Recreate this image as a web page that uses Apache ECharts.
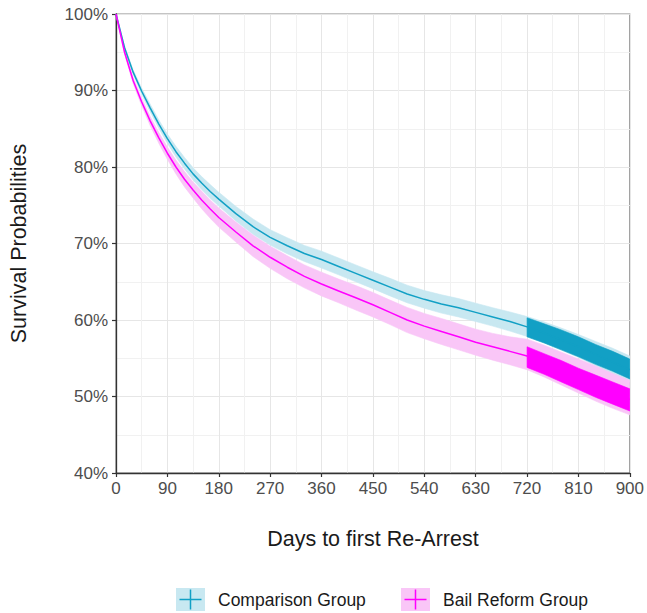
<!DOCTYPE html>
<html>
<head>
<meta charset="utf-8">
<title>Survival Probabilities</title>
<script src="https://cdn.jsdelivr.net/npm/echarts@6/dist/echarts.min.js"></script>
<style>
  html, body { margin: 0; padding: 0; background: #ffffff; }
  #chart { width: 647px; height: 613px; }
</style>
</head>
<body>
<div id="chart"></div>
<script>
// Kaplan-Meier estimates (in %) by days to first re-arrest
const days = [0, 15, 30, 45, 60, 75, 90, 105, 120, 135, 150, 165, 180, 210, 240, 270, 300, 330, 360,
  390, 420, 450, 480, 510, 540, 570, 600, 630, 660, 690, 720, 750, 780, 810, 840, 870, 900];

const comparisonSurv = [100, 95.6, 92.4, 89.9, 87.7, 85.6, 83.7, 82.0, 80.5, 79.1, 77.9, 76.8, 75.8, 73.9, 72.2, 70.8,
  69.7, 68.7, 67.9, 67.0, 66.1, 65.2, 64.3, 63.4, 62.7, 62.1, 61.6, 61.0, 60.4, 59.8, 59.1, 58.3, 57.4, 56.5, 55.5, 54.5, 53.5];
const comparisonLower = [100, 95.4, 92.1, 89.5, 87.2, 85.05, 83.1, 81.3, 79.75, 78.3, 77.05, 75.9, 74.9, 72.95, 71.2, 69.8,
  68.65, 67.65, 66.8, 65.9, 65.0, 64.1, 63.15, 62.25, 61.55, 60.9, 60.4, 59.8, 59.2, 58.55, 57.85, 57.0, 56.05, 55.1, 54.0, 52.95, 51.9];
const comparisonUpper = [100, 95.8, 92.7, 90.3, 88.2, 86.15, 84.3, 82.7, 81.25, 79.9, 78.75, 77.7, 76.7, 74.85, 73.2, 71.8,
  70.75, 69.75, 69.0, 68.1, 67.2, 66.3, 65.45, 64.55, 63.85, 63.3, 62.8, 62.2, 61.6, 61.05, 60.45, 59.75, 58.95, 58.1, 57.2, 56.3, 55.3];

const reformSurv = [100, 95.0, 91.3, 88.5, 86.0, 83.8, 81.8, 80.0, 78.4, 77.0, 75.7, 74.5, 73.4, 71.5, 69.7, 68.2,
  66.9, 65.7, 64.7, 63.8, 62.9, 62.0, 61.0, 60.0, 59.2, 58.5, 57.8, 57.1, 56.5, 55.9, 55.3, 54.4, 53.4, 52.4, 51.4, 50.5, 49.6];
const reformLower = [100, 94.75, 90.9, 88.0, 85.4, 83.1, 81.0, 79.1, 77.4, 75.95, 74.55, 73.3, 72.15, 70.2, 68.3, 66.75,
  65.4, 64.2, 63.15, 62.25, 61.3, 60.4, 59.4, 58.35, 57.55, 56.8, 56.1, 55.4, 54.75, 54.15, 53.5, 52.55, 51.5, 50.45, 49.4, 48.45, 47.6];
const reformUpper = [100, 95.25, 91.7, 89.0, 86.6, 84.5, 82.6, 80.9, 79.4, 78.05, 76.85, 75.7, 74.65, 72.8, 71.1, 69.65,
  68.4, 67.2, 66.25, 65.35, 64.5, 63.6, 62.6, 61.65, 60.85, 60.2, 59.5, 58.8, 58.25, 57.8, 57.5, 56.7, 55.8, 54.9, 54.0, 53.0, 52.1];

// Dense censoring marks after day 720
const censorDays = [720, 750, 780, 810, 840, 870, 900];
const comparisonCensorLow = [57.8, 57.0, 56.1, 55.2, 54.2, 53.3, 52.3];
const comparisonCensorHigh = [60.3, 59.5, 58.7, 57.8, 56.8, 55.9, 54.9];
const reformCensorLow = [53.8, 52.9, 51.9, 50.9, 49.9, 49.0, 48.1];
const reformCensorHigh = [56.5, 55.6, 54.7, 53.7, 52.8, 51.9, 51.0];

const groupNames = ['Comparison Group', 'Bail Reform Group'];

const TEAL = '#12a0c5';
const TEAL_LIGHT = '#c8e8f1';
const MAGENTA = '#ff00ff';
const MAGENTA_LIGHT = '#f9c6f7';
const FONT = '"Liberation Sans", Arial, Helvetica, sans-serif';

const pairs = (xs, ys) => xs.map((x, i) => [x, ys[i]]);

// A ribbon between two bounds, drawn as one polygon in data coordinates
function ribbon(xs, lo, hi, color) {
  return {
    type: 'custom', silent: true, clip: true,
    data: xs.map((x, i) => [x, lo[i], hi[i]]),
    encode: { x: 0, y: [1, 2] },
    renderItem: (params, api) => {
      if (params.dataIndex !== 0) return null;
      const top = xs.map((x, i) => api.coord([x, hi[i]]));
      const bottom = xs.map((x, i) => api.coord([x, lo[i]])).reverse();
      return {
        type: 'polygon',
        shape: { points: top.concat(bottom) },
        style: { fill: color, stroke: color, lineWidth: 0.6 }
      };
    }
  };
}

function curve(name, ys, color) {
  return {
    type: 'line', name: name, data: pairs(days, ys), symbol: 'none', silent: true,
    lineStyle: { color: color, width: 1.5 }, itemStyle: { color: color }
  };
}

const series = [
  ribbon(days, comparisonLower, comparisonUpper, TEAL_LIGHT),
  ribbon(days, reformLower, reformUpper, MAGENTA_LIGHT),
  ribbon(censorDays, comparisonCensorLow, comparisonCensorHigh, TEAL),
  ribbon(censorDays, reformCensorLow, reformCensorHigh, MAGENTA),
  curve(groupNames[0], comparisonSurv, TEAL),
  curve(groupNames[1], reformSurv, MAGENTA)
];

const axisText = { fontFamily: FONT, fontSize: 17, color: '#4d4d4d' };
const titleText = { fontFamily: FONT, fontSize: 21.5, color: '#1a1a1a' };

function legendBlock(name, left, light) {
  return {
    data: [{ name: name, icon: 'rect', itemStyle: { color: light, borderWidth: 0 } }],
    left: left, top: 588, padding: 0, itemWidth: 29, itemHeight: 23, selectedMode: false,
    textStyle: { fontFamily: FONT, fontSize: 17.5, color: '#1a1a1a', padding: [0, 0, 0, 8] }
  };
}

function legendCross(cx, cy, color) {
  return [
    { type: 'line', z: 100, shape: { x1: cx - 11, y1: cy, x2: cx + 11, y2: cy }, style: { stroke: color, lineWidth: 1.5 } },
    { type: 'line', z: 100, shape: { x1: cx, y1: cy - 10, x2: cx, y2: cy + 10 }, style: { stroke: color, lineWidth: 1.5 } }
  ];
}

const chart = echarts.init(document.getElementById('chart'), null, { renderer: 'svg' });
chart.setOption({
  animation: false,
  backgroundColor: '#ffffff',
  grid: { left: 116, right: 13, top: 14, bottom: 140, show: true, borderColor: '#8a8a8a', borderWidth: 1.2 },
  xAxis: {
    type: 'value', min: 0, max: 900, interval: 90,
    name: 'Days to first Re-Arrest', nameLocation: 'middle', nameGap: 55, nameTextStyle: titleText,
    axisLine: { show: true, lineStyle: { color: '#333333', width: 1.3 } },
    axisTick: { show: true, length: 4, lineStyle: { color: '#333333', width: 1.2 } },
    axisLabel: Object.assign({ margin: 7 }, axisText),
    splitLine: { show: true, lineStyle: { color: '#e6e6e6', width: 1 } },
    minorTick: { show: false, splitNumber: 2 },
    minorSplitLine: { show: true, lineStyle: { color: '#f1f1f1', width: 1 } }
  },
  yAxis: {
    type: 'value', min: 40, max: 100, interval: 10,
    name: 'Survival Probabilities', nameLocation: 'middle', nameGap: 86, nameTextStyle: titleText,
    axisLine: { show: true, lineStyle: { color: '#333333', width: 1.3 } },
    axisTick: { show: true, length: 4, lineStyle: { color: '#333333', width: 1.2 } },
    axisLabel: Object.assign({ margin: 8, formatter: '{value}%' }, axisText),
    splitLine: { show: true, lineStyle: { color: '#e6e6e6', width: 1 } },
    minorTick: { show: false, splitNumber: 2 },
    minorSplitLine: { show: true, lineStyle: { color: '#f1f1f1', width: 1 } }
  },
  legend: [
    legendBlock(groupNames[0], 176, TEAL_LIGHT),
    legendBlock(groupNames[1], 401, MAGENTA_LIGHT)
  ],
  graphic: [
    ...legendCross(190.5, 599.5, TEAL),
    ...legendCross(415.5, 599.5, MAGENTA)
  ],
  series: series
});
</script>
</body>
</html>
